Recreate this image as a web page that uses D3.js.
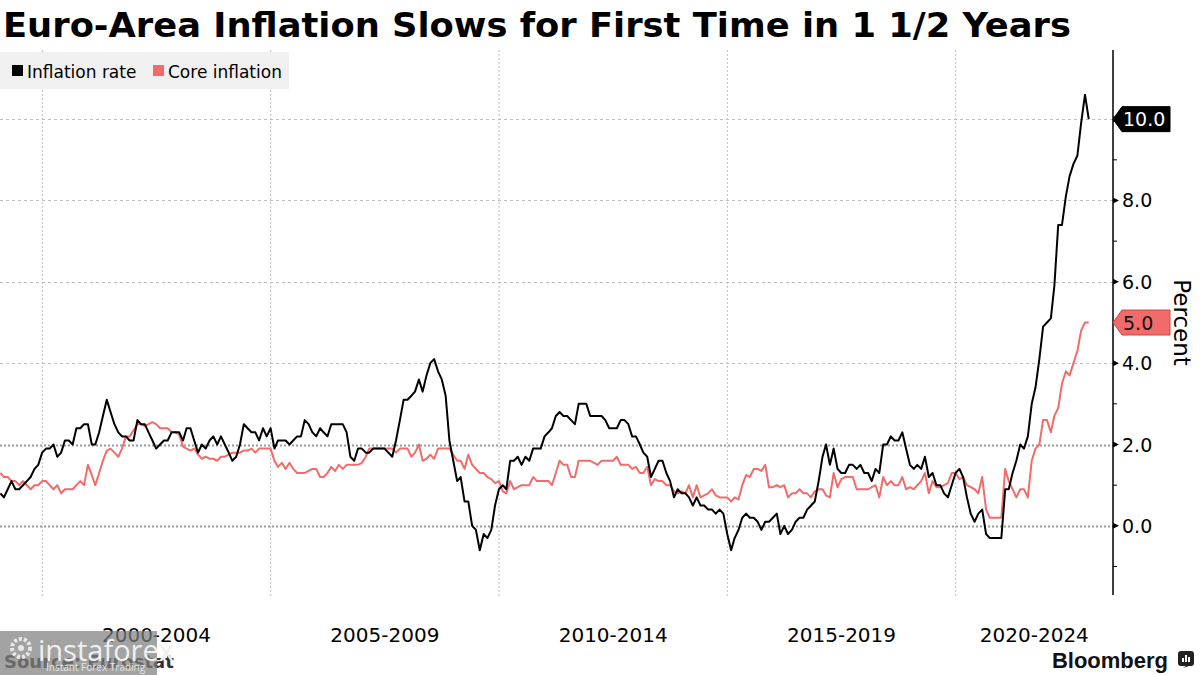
<!DOCTYPE html>
<html><head><meta charset="utf-8">
<script src="https://cdn.jsdelivr.net/npm/d3@7"></script>
<style>
body{margin:0;background:#fff;}
svg{display:block;font-family:"DejaVu Sans",Verdana,sans-serif;}
</style>
</head><body>
<svg id="chart" width="1200" height="675"></svg>
<script>
// ---------------- DATA ----------------
const startYear = 1999;            // first observation: Jan 1999, monthly to Nov 2022
const seriesNames = ["Inflation rate", "Core inflation"];
const titleText = "Euro-Area Inflation Slows for First Time in 1 1/2 Years";
const sourceText = "Source: Eurostat";
const unitLabel = "Percent";

// headline HICP, % y/y
const inflation = [
  0.8,0.7,0.9,1.1,0.9,0.9,1.0,1.1,1.2,1.4,1.5,1.8,   // 1999
  1.9,1.9,2.0,1.7,1.8,2.1,2.1,2.0,2.4,2.4,2.5,2.5,   // 2000
  2.0,2.0,2.3,2.7,3.1,2.8,2.5,2.3,2.2,2.2,2.1,2.1,   // 2001
  2.6,2.5,2.5,2.3,2.1,1.9,2.0,2.1,2.1,2.3,2.3,2.3,   // 2002
  2.1,2.4,2.4,2.1,1.8,2.0,1.9,2.1,2.2,2.0,2.2,2.0,   // 2003
  1.8,1.6,1.7,2.0,2.5,2.4,2.3,2.3,2.1,2.4,2.2,2.4,   // 2004
  1.9,2.1,2.1,2.1,2.0,2.1,2.2,2.2,2.6,2.5,2.3,2.2,   // 2005
  2.4,2.3,2.2,2.5,2.5,2.5,2.5,2.3,1.7,1.6,1.9,1.9,   // 2006
  1.8,1.8,1.9,1.9,1.9,1.9,1.8,1.7,2.1,2.6,3.1,3.1,   // 2007
  3.2,3.3,3.6,3.3,3.7,4.0,4.1,3.8,3.6,3.2,2.1,1.6,   // 2008
  1.1,1.2,0.6,0.6,0.0,-0.1,-0.6,-0.2,-0.3,-0.1,0.5,0.9, // 2009
  1.0,0.9,1.6,1.6,1.7,1.5,1.7,1.6,1.9,1.9,1.9,2.2,   // 2010
  2.3,2.4,2.7,2.8,2.7,2.7,2.6,2.5,3.0,3.0,3.0,2.7,   // 2011
  2.7,2.7,2.7,2.6,2.4,2.4,2.4,2.6,2.6,2.5,2.2,2.2,   // 2012
  2.0,1.8,1.7,1.2,1.4,1.6,1.6,1.3,1.1,0.7,0.9,0.8,   // 2013
  0.8,0.7,0.5,0.7,0.5,0.5,0.4,0.4,0.3,0.4,0.3,-0.2,  // 2014
  -0.6,-0.3,-0.1,0.2,0.3,0.2,0.2,0.1,-0.1,0.1,0.1,0.2, // 2015
  0.3,-0.2,0.0,-0.2,-0.1,0.1,0.2,0.2,0.4,0.5,0.6,1.1, // 2016
  1.7,2.0,1.5,1.9,1.4,1.3,1.3,1.5,1.5,1.4,1.5,1.3,   // 2017
  1.3,1.1,1.4,1.3,2.0,2.0,2.2,2.1,2.1,2.3,1.9,1.5,   // 2018
  1.4,1.5,1.4,1.7,1.2,1.3,1.0,1.0,0.8,0.7,1.0,1.3,   // 2019
  1.4,1.2,0.7,0.3,0.1,0.3,0.4,-0.2,-0.3,-0.3,-0.3,-0.3, // 2020
  0.9,0.9,1.3,1.6,2.0,1.9,2.2,3.0,3.4,4.1,4.9,5.0,   // 2021
  5.1,5.9,7.4,7.4,8.1,8.6,8.9,9.1,9.9,10.6,10.0      // 2022
];

// core inflation, % y/y
const core = [
  1.3,1.2,1.2,1.1,1.1,1.0,1.1,1.0,0.9,1.0,1.0,1.1,   // 1999
  1.1,1.0,0.9,1.0,0.8,0.9,0.9,0.9,1.0,1.1,1.0,1.5,   // 2000
  1.25,1.0,1.3,1.6,1.85,1.9,1.8,1.7,1.9,2.2,2.2,2.35, // 2001
  2.5,2.5,2.45,2.5,2.55,2.5,2.4,2.4,2.4,2.3,2.3,2.25, // 2002
  1.95,1.9,1.85,1.9,1.75,1.65,1.7,1.65,1.65,1.6,1.7,1.7, // 2003
  1.75,1.8,1.8,1.8,1.85,1.85,1.9,1.8,1.9,1.9,1.9,1.9, // 2004
  1.6,1.45,1.55,1.4,1.55,1.4,1.3,1.3,1.3,1.35,1.4,1.4, // 2005
  1.2,1.2,1.3,1.45,1.35,1.5,1.4,1.5,1.5,1.5,1.5,1.55, // 2006
  1.7,1.9,1.9,1.9,1.9,1.9,1.9,1.9,1.8,1.9,1.9,1.9,   // 2007
  1.7,1.8,2.0,1.6,1.65,1.75,1.65,1.9,1.9,1.9,1.9,1.75, // 2008
  1.6,1.6,1.4,1.75,1.5,1.4,1.3,1.3,1.2,1.15,1.05,1.1, // 2009
  0.85,0.8,1.1,0.9,0.95,1.0,1.0,1.0,1.2,1.1,1.1,1.1, // 2010
  1.1,1.0,1.3,1.6,1.5,1.5,1.2,1.2,1.6,1.6,1.6,1.6,   // 2011
  1.55,1.5,1.6,1.6,1.6,1.6,1.7,1.5,1.5,1.5,1.4,1.45, // 2012
  1.3,1.3,1.45,1.0,1.15,1.1,1.1,1.0,1.0,0.85,0.8,0.85, // 2013
  0.8,1.0,0.7,1.0,0.7,0.75,0.8,0.9,0.75,0.7,0.7,0.7, // 2014
  0.6,0.7,0.65,1.0,1.25,1.2,1.4,1.4,1.35,1.5,0.95,0.95, // 2015
  1.0,0.95,1.0,0.7,0.8,0.8,0.9,0.8,0.8,0.7,0.85,0.9, // 2016
  0.9,0.75,0.7,1.3,0.95,1.15,1.2,1.2,1.2,0.9,0.9,0.9, // 2017
  0.9,0.95,1.0,0.7,1.2,1.0,1.1,1.0,1.0,1.2,0.9,0.95, // 2018
  0.9,1.0,1.1,1.3,0.8,1.1,0.95,0.95,1.0,1.05,1.3,1.3, // 2019
  1.15,1.2,1.0,0.95,0.9,0.8,1.2,0.4,0.2,0.2,0.2,0.2, // 2020
  1.4,1.1,0.9,0.7,0.9,0.9,0.7,1.6,1.9,2.0,2.6,2.6,   // 2021
  2.3,2.7,2.9,3.5,3.8,3.7,4.0,4.3,4.8,5.0,5.0        // 2022
];

const yTicks = [0, 2, 4, 6, 8, 10];
const yMinorTicks = [-1, 1, 3, 5, 7, 9];
const emphasisTicks = [0, 2];
const gridYears = [2000, 2005, 2010, 2015, 2020];
const periodLabels = ["2000-2004", "2005-2009", "2010-2014", "2015-2019", "2020-2024"];

// ---------------- LAYOUT ----------------
const plot = {left: 0, right: 1113, top: 50, bottom: 595};
const colors = {headline: "#000000", core: "#f26b6b", grid: "#bdbdbd", gridStrong: "#9a9a9a"};

const svg = d3.select("#chart");

const monthEnd = i => new Date(startYear, i + 1, 0);
const headlineData = inflation.map((v, i) => ({date: monthEnd(i), v}));
const coreData = core.map((v, i) => ({date: monthEnd(i), v}));

const x = d3.scaleTime()
  .domain([new Date(1999, 0, 28), new Date(2023, 5, 12)])
  .range([plot.left, plot.right]);
const y = d3.scaleLinear()
  .domain([-1.7, 11.7])
  .range([plot.bottom, plot.top]);

// vertical grid
svg.append("g").selectAll("line").data(gridYears).join("line")
  .attr("x1", d => x(new Date(d, 0, 1))).attr("x2", d => x(new Date(d, 0, 1)))
  .attr("y1", plot.top).attr("y2", plot.bottom + 2)
  .attr("stroke", colors.grid).attr("stroke-width", 1).attr("stroke-dasharray", "2,2");

// horizontal grid
svg.append("g").selectAll("line").data(yTicks).join("line")
  .attr("x1", plot.left).attr("x2", plot.right)
  .attr("y1", d => Math.round(y(d)) + 0.5).attr("y2", d => Math.round(y(d)) + 0.5)
  .attr("stroke", d => emphasisTicks.includes(d) ? colors.gridStrong : colors.grid)
  .attr("stroke-width", d => emphasisTicks.includes(d) ? 2 : 1)
  .attr("stroke-dasharray", d => emphasisTicks.includes(d) ? "2,2" : "3,3");

// lines
const line = d3.line().x(d => x(d.date)).y(d => y(d.v));
svg.append("path").datum(coreData).attr("d", line)
  .attr("fill", "none").attr("stroke", colors.core).attr("stroke-width", 2)
  .attr("stroke-linejoin", "round");
svg.append("path").datum(headlineData).attr("d", line)
  .attr("fill", "none").attr("stroke", colors.headline).attr("stroke-width", 2)
  .attr("stroke-linejoin", "round");

// right axis
const axisG = svg.append("g");
axisG.append("line").attr("x1", plot.right).attr("x2", plot.right)
  .attr("y1", plot.top).attr("y2", plot.bottom)
  .attr("stroke", "#000").attr("stroke-width", 1.5);
axisG.selectAll(".minor").data(yMinorTicks).join("line")
  .attr("x1", plot.right).attr("x2", plot.right + 4)
  .attr("y1", d => y(d)).attr("y2", d => y(d))
  .attr("stroke", "#000").attr("stroke-width", 1);
axisG.selectAll(".major").data(yTicks).join("path")
  .attr("d", d => `M${plot.right},${y(d) - 3}L${plot.right + 6},${y(d)}L${plot.right},${y(d) + 3}Z`)
  .attr("fill", "#000");
axisG.selectAll("text").data(yTicks.filter(d => d !== 10)).join("text")
  .attr("x", plot.right + 9).attr("y", d => y(d) + 7)
  .attr("font-size", 19).attr("fill", "#000")
  .text(d => d3.format(".1f")(d));

// unit label
svg.append("text").attr("transform", `translate(1174,${y(5)}) rotate(90)`)
  .attr("text-anchor", "middle").attr("font-size", 23).text(unitLabel);

// last-value tags
const lastTags = [
  {v: inflation[inflation.length - 1], fill: "#000", stroke: "#000", text: "#fff"},
  {v: core[core.length - 1], fill: colors.core, stroke: "#c94a4a", text: "#111"}
];
const tagG = svg.append("g").selectAll("g").data(lastTags).join("g")
  .attr("transform", d => `translate(${plot.right},${y(d.v)})`);
tagG.append("path")
  .attr("d", "M0,0L9,-12.5L57,-12.5L57,12.5L9,12.5Z")
  .attr("fill", d => d.fill).attr("stroke", d => d.stroke).attr("stroke-width", 1);
tagG.append("text").attr("x", 10).attr("y", 7).attr("font-size", 19)
  .attr("fill", d => d.text).text(d => d3.format(".1f")(d.v));

// x period labels
const periodG = svg.append("g");
periodG.selectAll("text").data(periodLabels).join("text")
  .attr("x", (d, i) => {
    const a = x(new Date(gridYears[i], 0, 1));
    const b = Math.min(x(new Date(gridYears[i] + 5, 0, 1)), plot.right);
    return (a + b) / 2;
  })
  .attr("y", 642).attr("text-anchor", "middle").attr("font-size", 20).text(d => d);

// legend
const legend = svg.append("g");
legend.append("rect").attr("x", 0).attr("y", 52).attr("width", 289).attr("height", 37).attr("fill", "#f0f0f0");
const legItems = [{name: seriesNames[0], color: colors.headline, x: 12}, {name: seriesNames[1], color: colors.core, x: 153}];
legItems.forEach(it => {
  legend.append("rect").attr("x", it.x).attr("y", 65).attr("width", 11).attr("height", 11).attr("fill", it.color);
  legend.append("text").attr("x", it.x + 15).attr("y", 77.5).attr("font-size", 17).text(it.name);
});

// title (stretched to the reference's width, like a wide bold grotesque)
svg.append("text").attr("x", 3).attr("y", 37)
  .attr("font-size", 33).attr("font-weight", "bold").attr("fill", "#000")
  .attr("textLength", 1068).attr("lengthAdjust", "spacingAndGlyphs")
  .text(titleText);

// source (under the watermark, as in the reference)
svg.append("text").attr("x", 4).attr("y", 668).attr("font-size", 18).attr("font-weight", "bold")
  .attr("fill", "#333").text(sourceText);

// watermark overlay
const wm = svg.append("g");
wm.append("rect").attr("x", 0).attr("y", 631).attr("width", 157).attr("height", 44)
  .attr("fill", "#808080").attr("opacity", 0.72);
wm.append("circle").attr("cx", 21).attr("cy", 648).attr("r", 9).attr("fill", "none")
  .attr("stroke", "#e8e8e8").attr("stroke-width", 4).attr("stroke-dasharray", "3,2");
wm.append("circle").attr("cx", 21).attr("cy", 648).attr("r", 3).attr("fill", "#e8e8e8");
wm.append("text").attr("x", 38).attr("y", 661).attr("font-size", 29)
  .attr("font-family", "'Open Sans', sans-serif").attr("fill", "#f0f0f0").text("instaforex");
wm.append("text").attr("x", 46).attr("y", 671).attr("font-size", 10)
  .attr("font-family", "'Open Sans', sans-serif").attr("fill", "#e6e6e6").text("Instant Forex Trading");

// Bloomberg brand
svg.append("text").attr("x", 1168).attr("y", 668).attr("text-anchor", "end")
  .attr("font-family", "'Liberation Sans', Arial, sans-serif").attr("font-weight", "bold")
  .attr("font-size", 22).attr("fill", "#111").text("Bloomberg");
const icon = svg.append("g").attr("transform", "translate(1178,651)");
icon.append("rect").attr("width", 16).attr("height", 15).attr("rx", 3).attr("fill", "#222");
icon.append("path").attr("d", "M5,17L8,15L11,15Z").attr("fill", "#222");
[[4,7],[7,4],[10,6]].forEach(([bx, by]) => icon.append("rect").attr("x", bx).attr("y", by)
  .attr("width", 2).attr("height", 11 - by).attr("fill", "#fff"));
</script>
</body></html>
